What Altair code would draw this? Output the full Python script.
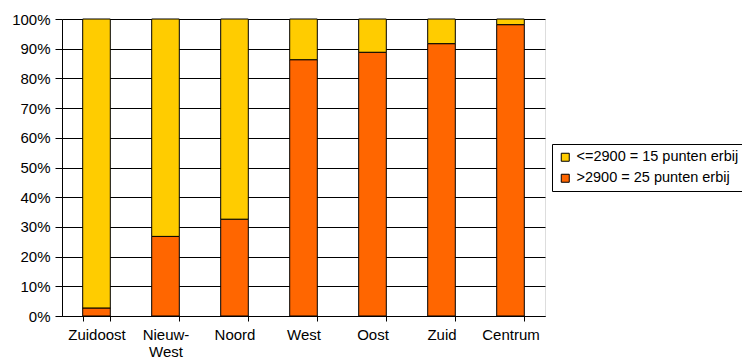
import altair as alt
import pandas as pd

# Stadsdelen and share of homes per WOZ band
stadsdelen = ["Zuidoost", "Nieuw-West", "Noord", "West", "Oost", "Zuid", "Centrum"]
boven_2900 = [2.7, 26.8, 32.6, 86.3, 88.8, 91.7, 98.1]  # % > 2900
tot_2900 = [round(100 - v, 1) for v in boven_2900]     # % <= 2900

lbl_hoog = ">2900 = 25 punten erbij"
lbl_laag = "<=2900 = 15 punten erbij"

rows = []
for s, hi, lo in zip(stadsdelen, boven_2900, tot_2900):
    rows.append({"stadsdeel": s, "groep": lbl_hoog, "aandeel": hi, "volgorde": 0})
    rows.append({"stadsdeel": s, "groep": lbl_laag, "aandeel": lo, "volgorde": 1})
df = pd.DataFrame(rows)

font = "Liberation Sans"

chart = alt.Chart(df).mark_bar(stroke="#000000", strokeWidth=1).encode(
    x=alt.X(
        "stadsdeel:N",
        sort=stadsdelen,
        title=None,
        scale=alt.Scale(paddingInner=0.6, paddingOuter=0.3),
        axis=alt.Axis(
            labelAngle=0,
            tickBand="extent",
            tickSize=5,
            tickColor="#000000",
            domainColor="#000000",
            labelPadding=6,
            labelFontSize=15,
            labelLineHeight=17,
            labelExpr="datum.label == 'Nieuw-West' ? ['Nieuw-', 'West'] : datum.label",
            grid=False,
        ),
    ),
    y=alt.Y(
        "aandeel:Q",
        stack="zero",
        title=None,
        scale=alt.Scale(domain=[0, 100], nice=False),
        axis=alt.Axis(
            values=list(range(0, 101, 10)),
            labelExpr="datum.value + '%'",
            tickSize=7,
            tickColor="#000000",
            domainColor="#000000",
            labelPadding=5,
            labelFontSize=15,
            grid=True,
            gridColor="#000000",
            gridWidth=1,
        ),
    ),
    color=alt.Color(
        "groep:N",
        scale=alt.Scale(domain=[lbl_laag, lbl_hoog], range=["#FFCC00", "#FF6600"]),
        legend=alt.Legend(
            title=None,
            orient="none",
            legendX=490,
            legendY=125,
            symbolType="square",
            symbolSize=64,
            symbolStrokeColor="#000000",
            symbolStrokeWidth=1,
            labelFontSize=14.5,
            labelOffset=4,
            labelLimit=400,
            rowPadding=6,
            padding=6,
            strokeColor="#000000",
            fillColor="#FFFFFF",
        ),
    ),
    order=alt.Order("volgorde:Q"),
).properties(
    width=483,
    height=297,
    autosize=alt.AutoSizeParams(type="none"),
    padding={"left": 62, "top": 19, "right": 197, "bottom": 47},
).configure_view(
    fill="#C0C0C0",
    stroke="#808080",
    strokeWidth=1,
).configure_axis(
    labelFont=font,
    labelColor="#000000",
).configure_legend(
    labelFont=font,
    labelColor="#000000",
).configure(background="#FFFFFF")

chart.save("out.html", embed_options={"renderer": "svg", "actions": False})
